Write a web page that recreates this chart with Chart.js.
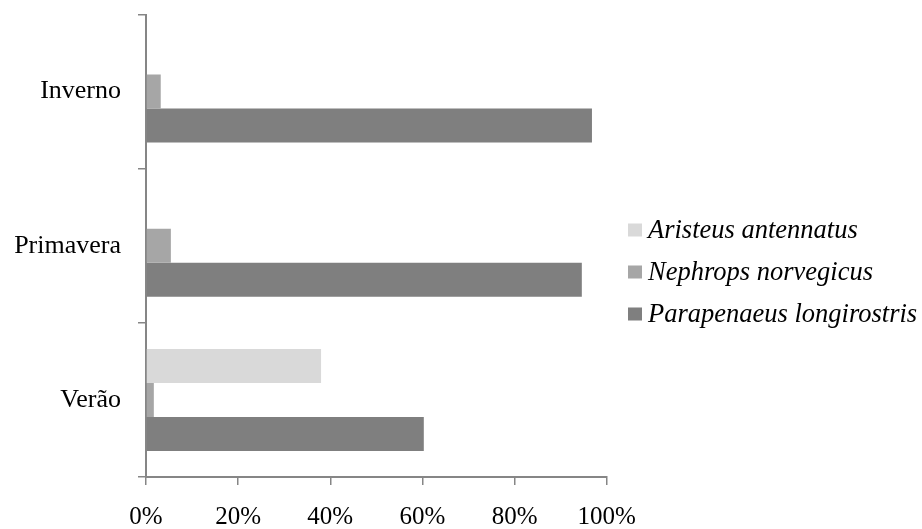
<!DOCTYPE html>
<html>
<head>
<meta charset="utf-8">
<script src="https://cdn.jsdelivr.net/npm/chart.js@4/dist/chart.umd.min.js"></script>
<style>
  html, body { margin: 0; padding: 0; background: #ffffff; }
  #wrap { width: 922px; height: 529px; position: relative; }
</style>
</head>
<body>
<div id="wrap"><canvas id="c" width="922" height="529"></canvas></div>
<script>
// Seasons shown on the category axis (top to bottom)
const seasons = ['Inverno', 'Primavera', 'Verão'];

// Species and their share (%) of the catch in each season
const species = ['Aristeus antennatus', 'Nephrops norvegicus', 'Parapenaeus longirostris'];
const aristeus = [0, 0, 38.0];
const nephrops = [3.2, 5.4, 1.7];
const parapenaeus = [96.8, 94.6, 60.3];

// Percentage axis ticks
const pctTicks = [0, 20, 40, 60, 80, 100];

const colors = ['#d9d9d9', '#a6a6a6', '#7f7f7f'];
const axisGray = '#868686';
const serif = "'Liberation Serif', 'Times New Roman', serif";

// Legend drawn at the right side of the canvas
const sideLegend = {
  id: 'sideLegend',
  afterDraw(chart) {
    const ctx = chart.ctx;
    ctx.save();
    ctx.font = 'italic 26.5px ' + serif;
    ctx.textBaseline = 'middle';
    ctx.textAlign = 'left';
    const x0 = 628, y0 = 230, gap = 42, box = 13;
    chart.data.datasets.forEach((ds, i) => {
      const cy = y0 + i * gap;
      ctx.fillStyle = ds.backgroundColor;
      ctx.fillRect(x0, cy - box / 2, box + 1, box);
      ctx.fillStyle = '#000000';
      ctx.fillText(ds.label, x0 + 20, cy + 1);
    });
    ctx.restore();
  }
};

new Chart(document.getElementById('c'), {
  type: 'bar',
  data: {
    labels: seasons,
    datasets: [
      { label: species[0], data: aristeus, backgroundColor: colors[0] },
      { label: species[1], data: nephrops, backgroundColor: colors[1] },
      { label: species[2], data: parapenaeus, backgroundColor: colors[2] }
    ]
  },
  options: {
    indexAxis: 'y',
    responsive: false,
    animation: false,
    devicePixelRatio: 1,
    layout: { padding: { top: 14.5, right: 315.3, left: 0, bottom: 0 } },
    datasets: {
      bar: { categoryPercentage: 0.662, barPercentage: 1.0, borderWidth: 0 }
    },
    plugins: {
      legend: { display: false },
      tooltip: { enabled: false }
    },
    scales: {
      x: {
        min: 0,
        max: 100,
        afterFit(scale) { scale.height = 52; },
        afterBuildTicks(scale) { scale.ticks = pctTicks.map(v => ({ value: v })); },
        border: { display: true, color: axisGray, width: 2 },
        grid: { drawOnChartArea: false, drawTicks: true, tickLength: 8, color: axisGray, lineWidth: 1.5 },
        ticks: {
          padding: 17,
          color: '#000000',
          font: { family: serif, size: 25 },
          maxRotation: 0,
          callback: v => v + '%'
        }
      },
      y: {
        afterFit(scale) {
          scale.width = 146;
          scale.paddingTop = 0;
          scale.paddingBottom = 0;
        },
        border: { display: true, color: axisGray, width: 2 },
        grid: { offset: true, drawOnChartArea: false, drawTicks: true, tickLength: 8, color: axisGray, lineWidth: 1.5 },
        ticks: {
          padding: 17,
          color: '#000000',
          font: { family: serif, size: 26 }
        }
      }
    }
  },
  plugins: [sideLegend]
});
</script>
</body>
</html>
